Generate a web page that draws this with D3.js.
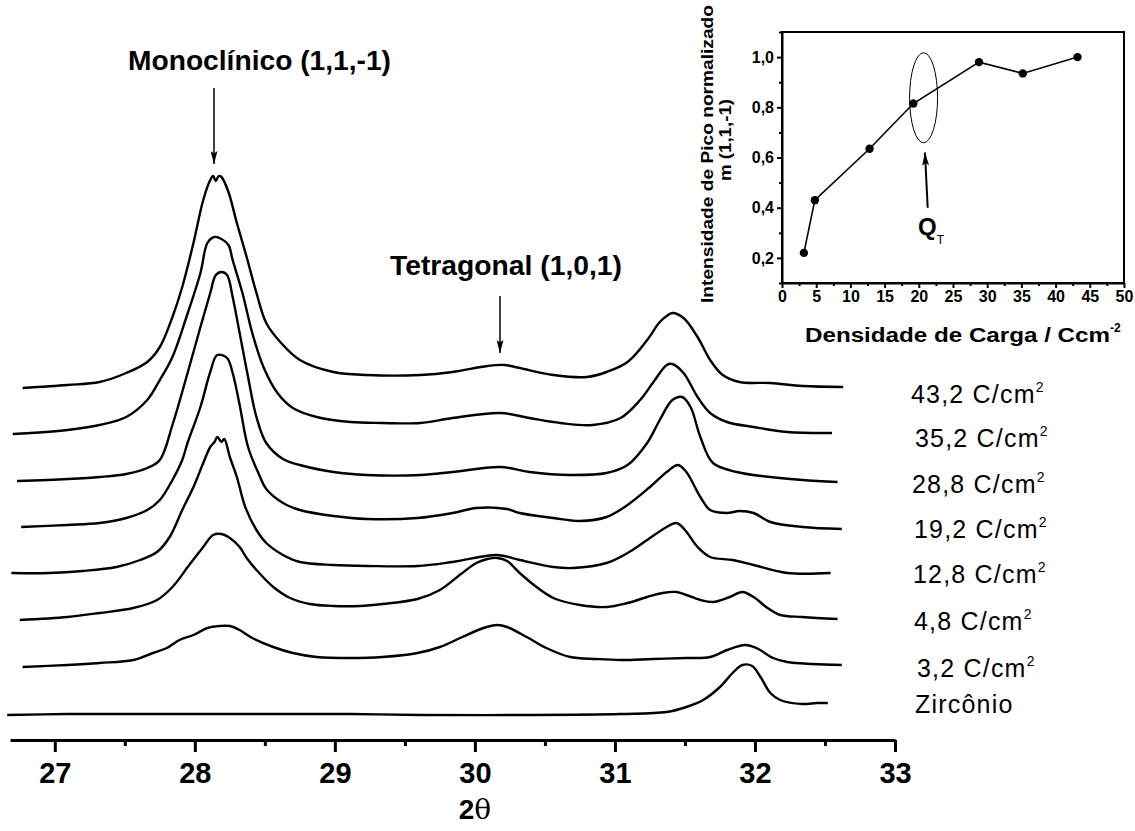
<!DOCTYPE html>
<html>
<head>
<meta charset="utf-8">
<script src="https://cdn.jsdelivr.net/npm/d3@7"></script>
<style>
  body { margin: 0; background: #fff; }
  text { font-family: "Liberation Sans", Arial, sans-serif; fill: #000; }
</style>
</head>
<body>
<script>
// ---- main XRD traces: [2theta, intensity above own baseline] ----
const zirconio = [[26.66,-2],[27.09,-1],[27.56,-1],[28.04,-1],[28.56,-1],[29.11,-1],[29.61,-2],[30.32,-2],[31.04,-1],[31.37,1],[31.51,6],[31.63,13],[31.75,26],[31.84,40],[31.91,48],[31.98,47],[32.04,36],[32.11,20],[32.18,13],[32.34,9],[32.44,10],[32.52,10]];
const q32 = [[26.77,-1],[27.09,1],[27.32,3],[27.56,6],[27.70,13],[27.80,18],[27.89,26],[27.99,31],[28.09,38],[28.18,40],[28.25,40],[28.32,36],[28.41,28],[28.56,19],[28.70,13],[28.87,9],[29.11,8],[29.34,9],[29.59,13],[29.75,19],[29.91,29],[30.06,38],[30.16,41],[30.23,39],[30.37,29],[30.51,18],[30.68,9],[30.87,7],[31.04,6],[31.27,7],[31.51,8],[31.68,9],[31.80,16],[31.93,21],[32.01,18],[32.13,8],[32.23,4],[32.41,2],[32.62,1]];
const q48 = [[26.75,-1],[27.09,2],[27.32,6],[27.56,11],[27.73,19],[27.84,32],[27.96,54],[28.06,72],[28.13,84],[28.19,85],[28.25,81],[28.32,72],[28.37,61],[28.44,49],[28.56,32],[28.68,21],[28.82,15],[28.99,13],[29.18,13],[29.34,15],[29.59,20],[29.75,29],[29.91,46],[30.01,56],[30.09,60],[30.16,61],[30.23,58],[30.32,46],[30.44,32],[30.56,21],[30.75,14],[30.94,12],[31.09,16],[31.23,22],[31.34,26],[31.44,27],[31.51,24],[31.61,19],[31.70,17],[31.82,22],[31.91,27],[31.99,22],[32.09,11],[32.18,4],[32.34,2],[32.59,0]];
const q128 = [[26.69,0],[26.96,0],[27.20,2],[27.44,6],[27.61,13],[27.73,21],[27.82,36],[27.91,63],[27.99,86],[28.06,110],[28.11,126],[28.14,131],[28.16,136],[28.19,131],[28.21,134],[28.25,116],[28.30,96],[28.36,66],[28.44,43],[28.51,30],[28.63,18],[28.75,11],[28.99,8],[29.23,7],[29.59,7],[29.84,11],[30.16,18],[30.32,13],[30.56,6],[30.70,5],[30.94,10],[31.09,20],[31.23,33],[31.37,46],[31.44,50],[31.50,43],[31.59,26],[31.68,16],[31.84,13],[31.99,8],[32.23,0],[32.54,0]];
const q192 = [[26.76,0],[27.09,2],[27.32,4],[27.51,9],[27.66,17],[27.75,27],[27.84,47],[27.91,67],[27.95,85],[28.04,120],[28.11,155],[28.16,172],[28.23,169],[28.27,154],[28.32,122],[28.38,80],[28.46,52],[28.51,38],[28.63,24],[28.75,17],[28.99,11],[29.23,8],[29.59,9],[29.84,14],[30.01,19],[30.23,18],[30.32,14],[30.56,9],[30.75,6],[30.94,10],[31.09,22],[31.25,40],[31.37,55],[31.45,62],[31.51,55],[31.61,30],[31.68,17],[31.80,14],[31.89,16],[31.99,14],[32.11,5],[32.34,0],[32.62,-2]];
const q288 = [[26.73,0],[27.09,2],[27.32,4],[27.51,7],[27.66,13],[27.75,21],[27.84,56],[27.94,104],[28.04,154],[28.11,188],[28.15,206],[28.19,209],[28.23,206],[28.27,184],[28.32,148],[28.38,104],[28.44,64],[28.51,38],[28.63,22],[28.75,16],[28.99,9],[29.23,6],[29.61,6],[29.84,9],[30.18,14],[30.39,9],[30.68,6],[30.94,8],[31.09,16],[31.23,38],[31.32,61],[31.41,81],[31.48,84],[31.54,74],[31.61,44],[31.70,18],[31.87,9],[32.11,4],[32.34,1],[32.59,-1]];
const q352 = [[26.70,-1],[27.09,3],[27.32,8],[27.51,16],[27.66,33],[27.75,53],[27.84,76],[27.94,116],[28.04,160],[28.09,190],[28.14,196],[28.19,194],[28.24,188],[28.27,173],[28.34,140],[28.41,100],[28.49,66],[28.59,40],[28.70,25],[28.87,16],[29.11,11],[29.34,10],[29.61,10],[29.84,15],[30.18,20],[30.39,15],[30.61,10],[30.84,8],[31.04,15],[31.18,33],[31.27,50],[31.37,68],[31.41,69],[31.49,60],[31.59,36],[31.68,20],[31.80,11],[31.99,6],[32.23,1],[32.55,0]];
const q432 = [[26.77,-1],[27.09,2],[27.32,5],[27.51,14],[27.66,25],[27.75,40],[27.84,70],[27.91,100],[27.99,144],[28.06,187],[28.11,207],[28.13,211],[28.15,206],[28.17,211],[28.19,210],[28.24,195],[28.30,164],[28.37,130],[28.44,94],[28.51,64],[28.61,45],[28.75,27],[28.99,15],[29.23,12],[29.61,12],[29.84,15],[30.09,21],[30.21,22],[30.32,19],[30.56,12],[30.80,10],[30.94,15],[31.09,25],[31.23,47],[31.32,65],[31.38,72],[31.41,74],[31.49,69],[31.59,50],[31.68,27],[31.77,12],[31.89,5],[32.11,4],[32.34,1],[32.63,0]];

const traces = [zirconio, q32, q48, q128, q192, q288, q352, q432];
const offsets = [27, 74, 121, 167, 213, 259, 307, 353];
const traceLabels = ['Zircônio', '3,2', '4,8', '12,8', '19,2', '28,8', '35,2', '43,2'];
const xTicks = [27, 28, 29, 30, 31, 32, 33];
const xMinor = [27.5, 28.5, 29.5, 30.5, 31.5, 32.5];

// ---- inset: normalised peak intensity vs charge density ----
const carga = [3.2, 4.8, 12.8, 19.2, 28.8, 35.2, 43.2];
const intensNorm = [0.22, 0.43, 0.635, 0.815, 0.98, 0.935, 1.0];
const insetXTicks = [0, 5, 10, 15, 20, 25, 30, 35, 40, 45, 50];
const insetYTicks = [0.2, 0.4, 0.6, 0.8, 1.0];

const svg = d3.select('body').append('svg').attr('width', 1135).attr('height', 831);

svg.append('defs').append('marker')
  .attr('id', 'head').attr('viewBox', '0 0 10 10').attr('refX', 10).attr('refY', 5)
  .attr('markerWidth', 13).attr('markerHeight', 7).attr('markerUnits', 'userSpaceOnUse')
  .attr('orient', 'auto').attr('preserveAspectRatio', 'none')
  .append('path').attr('d', 'M0,0 L10,5 L0,10 L2,5 Z').attr('fill', '#000');

const x = d3.scaleLinear().domain([26.68, 33]).range([10, 895]);
const y = d3.scaleLinear().domain([0, 740]).range([740, 0]);

const line = d3.line()
  .x(d => x(d[0]))
  .y(d => y(d[1]))
  .curve(d3.curveCatmullRom.alpha(0.5));

svg.selectAll('path.trace')
  .data(traces)
  .join('path')
  .attr('class', 'trace')
  .attr('d', (d, i) => line(d.map(p => [p[0], p[1] + offsets[i]])))
  .attr('fill', 'none')
  .attr('stroke', '#000')
  .attr('stroke-width', 2.4)
  .attr('stroke-linejoin', 'round');

// bottom axis
const axisG = svg.append('g').attr('transform', 'translate(0,740)');
axisG.call(d3.axisBottom(x).tickValues(xTicks).tickSize(12).tickSizeOuter(0).tickPadding(10).tickFormat(d3.format('d')));
axisG.append('g').call(d3.axisBottom(x).tickValues(xMinor).tickSize(6).tickFormat(''))
  .select('.domain').remove();
axisG.selectAll('path, line').attr('stroke', '#000').attr('stroke-width', 3);
axisG.selectAll('text').attr('font-size', 29).attr('font-weight', 'bold')
  .attr('font-family', '"Liberation Sans", Arial, sans-serif').attr('fill', '#000');

svg.append('text').attr('x', 475).attr('y', 819).attr('text-anchor', 'middle')
  .attr('font-size', 28).attr('font-weight', 'bold')
  .text('2')
  .append('tspan').attr('font-family', '"DejaVu Serif", "Liberation Serif", serif').attr('font-weight', 'normal').text('θ');

// trace labels
const labelY = [713, 677, 630, 583, 538, 493, 447, 403];
const labelX = [915, 917, 914, 913, 914, 912, 915, 911];
const lab = svg.selectAll('text.lab')
  .data(traceLabels)
  .join('text')
  .attr('class', 'lab')
  .attr('x', (d, i) => labelX[i])
  .attr('y', (d, i) => labelY[i])
  .attr('font-size', 25)
  .attr('letter-spacing', 1.2);
lab.each(function (d, i) {
  const t = d3.select(this);
  if (i === 0) { t.text(d); return; }
  t.append('tspan').text(d + ' C/cm');
  t.append('tspan').attr('dy', -11).attr('font-size', 14).text('2');
});

// peak annotations
svg.append('text').attr('x', 128).attr('y', 70).attr('font-size', 28).attr('font-weight', 'bold')
  .attr('textLength', 263).attr('lengthAdjust', 'spacingAndGlyphs')
  .text('Monoclínico (1,1,-1)');
svg.append('line').attr('x1', 214).attr('y1', 88).attr('x2', 214).attr('y2', 164)
  .attr('stroke', '#000').attr('stroke-width', 1.5).attr('marker-end', 'url(#head)');
svg.append('text').attr('x', 390).attr('y', 275).attr('font-size', 28).attr('font-weight', 'bold')
  .attr('textLength', 232).attr('lengthAdjust', 'spacingAndGlyphs')
  .text('Tetragonal (1,0,1)');
svg.append('line').attr('x1', 500).attr('y1', 296).attr('x2', 500).attr('y2', 353)
  .attr('stroke', '#000').attr('stroke-width', 1.5).attr('marker-end', 'url(#head)');

// ---- inset ----
const ix = d3.scaleLinear().domain([0, 50]).range([782, 1124]);
const iy = d3.scaleLinear().domain([0.1, 1.1]).range([283, 32]);
const inset = svg.append('g');

inset.append('rect').attr('x', ix(0)).attr('y', iy(1.1))
  .attr('width', ix(50) - ix(0)).attr('height', iy(0.1) - iy(1.1))
  .attr('fill', 'none').attr('stroke', '#000').attr('stroke-width', 2);

const ixAxis = inset.append('g').attr('transform', `translate(0,${iy(0.1)})`);
ixAxis.call(d3.axisBottom(ix).tickValues(insetXTicks).tickSize(5).tickSizeOuter(0).tickPadding(3));
ixAxis.append('g').call(d3.axisBottom(ix).tickValues(d3.range(2.5, 50, 5)).tickSize(3).tickFormat(''))
  .select('.domain').remove();
const iyAxis = inset.append('g').attr('transform', `translate(${ix(0)},0)`);
iyAxis.call(d3.axisLeft(iy).tickValues(insetYTicks).tickSize(5).tickSizeOuter(0).tickPadding(3)
  .tickFormat(d => d3.format('.1f')(d).replace('.', ',')));
iyAxis.append('g').call(d3.axisLeft(iy).tickValues([0.1, 0.3, 0.5, 0.7, 0.9, 1.1]).tickSize(3).tickFormat(''))
  .select('.domain').remove();
inset.selectAll('.domain, .tick line').attr('stroke', '#000').attr('stroke-width', 2);
inset.selectAll('.tick text').attr('font-size', 16).attr('font-weight', 'bold')
  .attr('font-family', '"Liberation Sans", Arial, sans-serif').attr('fill', '#000');

const pts = carga.map((c, i) => [c, intensNorm[i]]);
inset.append('path')
  .attr('d', d3.line().x(d => ix(d[0])).y(d => iy(d[1]))(pts))
  .attr('fill', 'none').attr('stroke', '#000').attr('stroke-width', 1.6);
inset.selectAll('circle')
  .data(pts)
  .join('circle')
  .attr('cx', d => ix(d[0])).attr('cy', d => iy(d[1])).attr('r', 4.2).attr('fill', '#000');

inset.append('ellipse').attr('cx', ix(20.7)).attr('cy', iy(0.838))
  .attr('rx', 14).attr('ry', 45).attr('fill', 'none').attr('stroke', '#000').attr('stroke-width', 1);
inset.append('line').attr('x1', ix(21.3)).attr('y1', iy(0.4)).attr('x2', ix(20.9)).attr('y2', iy(0.62))
  .attr('stroke', '#000').attr('stroke-width', 2).attr('marker-end', 'url(#head)');
const qt = inset.append('text').attr('x', 918).attr('y', 235).attr('font-size', 24).attr('font-weight', 'bold');
qt.append('tspan').text('Q');
qt.append('tspan').attr('font-size', 12).attr('font-weight', 'normal').attr('dy', 9).text('T');

// inset titles
inset.append('text')
  .attr('transform', 'translate(713,154) rotate(-90)')
  .attr('text-anchor', 'middle').attr('font-size', 16).attr('font-weight', 'bold')
  .attr('textLength', 298).attr('lengthAdjust', 'spacingAndGlyphs')
  .text('Intensidade de Pico normalizado');
inset.append('text')
  .attr('transform', 'translate(731,140) rotate(-90)')
  .attr('text-anchor', 'middle').attr('font-size', 16).attr('font-weight', 'bold')
  .attr('textLength', 82).attr('lengthAdjust', 'spacingAndGlyphs')
  .text('m (1,1,-1)');
const xt = inset.append('text').attr('x', 805).attr('y', 342)
  .attr('font-size', 20).attr('font-weight', 'bold');
xt.append('tspan').attr('textLength', 305).attr('lengthAdjust', 'spacingAndGlyphs').text('Densidade de Carga / Ccm');
xt.append('tspan').attr('dy', -10).attr('font-size', 12).text('-2');
</script>
</body>
</html>
